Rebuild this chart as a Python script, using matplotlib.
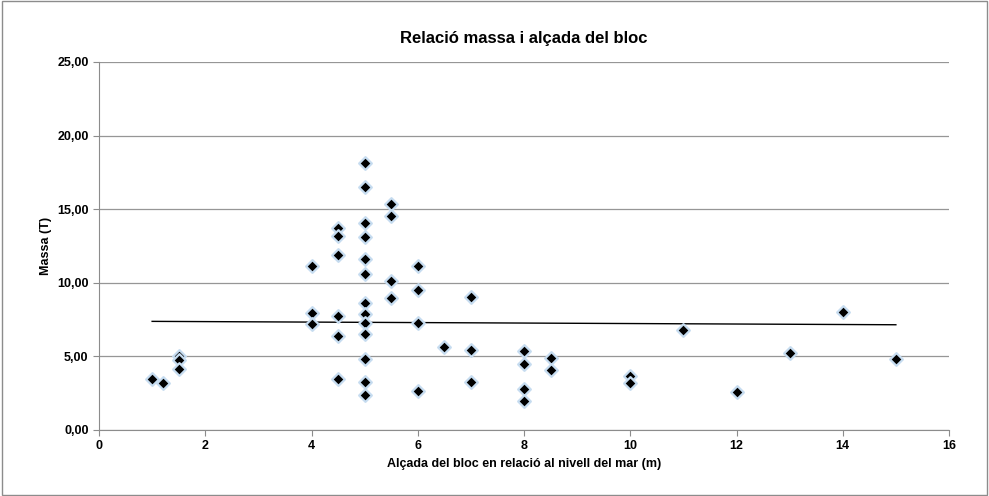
import matplotlib
matplotlib.use("Agg")
import matplotlib.pyplot as plt
from matplotlib.ticker import FuncFormatter

alcada = [1, 1.2, 1.5, 1.5, 1.5,
          4, 4, 4,
          4.5, 4.5, 4.5, 4.5, 4.5, 4.5,
          5, 5, 5, 5, 5, 5, 5, 5, 5, 5, 5, 5, 5,
          5.5, 5.5, 5.5, 5.5,
          6, 6, 6, 6,
          6.5,
          7, 7, 7,
          8, 8, 8, 8,
          8.5, 8.5,
          10, 10, 11, 12, 13, 14, 15]
massa = [3.49, 3.22, 5.03, 4.76, 4.12,
         11.14, 7.97, 7.22,
         13.7, 13.18, 11.86, 7.77, 6.41, 3.44,
         18.16, 16.53, 14.08, 13.09, 11.64, 10.57, 8.6, 7.88, 7.29, 6.54, 4.82, 3.24, 2.38,
         15.35, 14.54, 10.12, 8.94,
         11.14, 9.49, 7.29, 2.65,
         5.62,
         9.04, 5.41, 3.24,
         5.4, 4.5, 2.8, 2.0,
         4.9, 4.1,
         3.7, 3.2, 6.8, 2.6, 5.2, 8.0, 4.8]
tendencia_x = [1, 15]
tendencia_y = [7.38, 7.15]

plt.rcParams["font.family"] = ["Liberation Sans", "DejaVu Sans"]

fig = plt.figure(figsize=(9.89, 4.96), dpi=100)
ax = fig.add_axes([99 / 989, 1 - 430 / 496, 850 / 989, 368 / 496])

ax.plot(tendencia_x, tendencia_y, color="black", linewidth=1, zorder=2)
ax.scatter(alcada, massa, marker="D", s=42, color="black",
           edgecolors="#c6dcf0", linewidths=1.6, zorder=3)

ax.set_xlim(0, 16)
ax.set_ylim(0, 25)
ax.set_xticks(range(0, 17, 2))
ax.set_yticks(range(0, 26, 5))
ax.yaxis.set_major_formatter(FuncFormatter(lambda v, p: f"{v:.2f}".replace(".", ",")))
ax.grid(axis="y", color="#969696", linewidth=0.9)
ax.set_axisbelow(True)
for side in ["top", "right"]:
    ax.spines[side].set_visible(False)
for side in ["left", "bottom"]:
    ax.spines[side].set_color("#8c8c8c")
ax.tick_params(colors="#8c8c8c", labelcolor="black", labelsize=9, length=4)
for lbl in ax.get_xticklabels() + ax.get_yticklabels():
    lbl.set_fontweight("bold")

ax.set_title("Relació massa i alçada del bloc", fontsize=12, fontweight="bold", pad=14)
ax.set_xlabel("Alçada del bloc en relació al nivell del mar (m)", fontsize=9, fontweight="bold")
ax.set_ylabel("Massa (T)", fontsize=9, fontweight="bold")

fig.patches.append(plt.Rectangle((0.002, 0.003), 0.996, 0.994, transform=fig.transFigure,
                                 fill=False, edgecolor="#8c8c8c", linewidth=1))

fig.savefig("out.png", dpi=100)
